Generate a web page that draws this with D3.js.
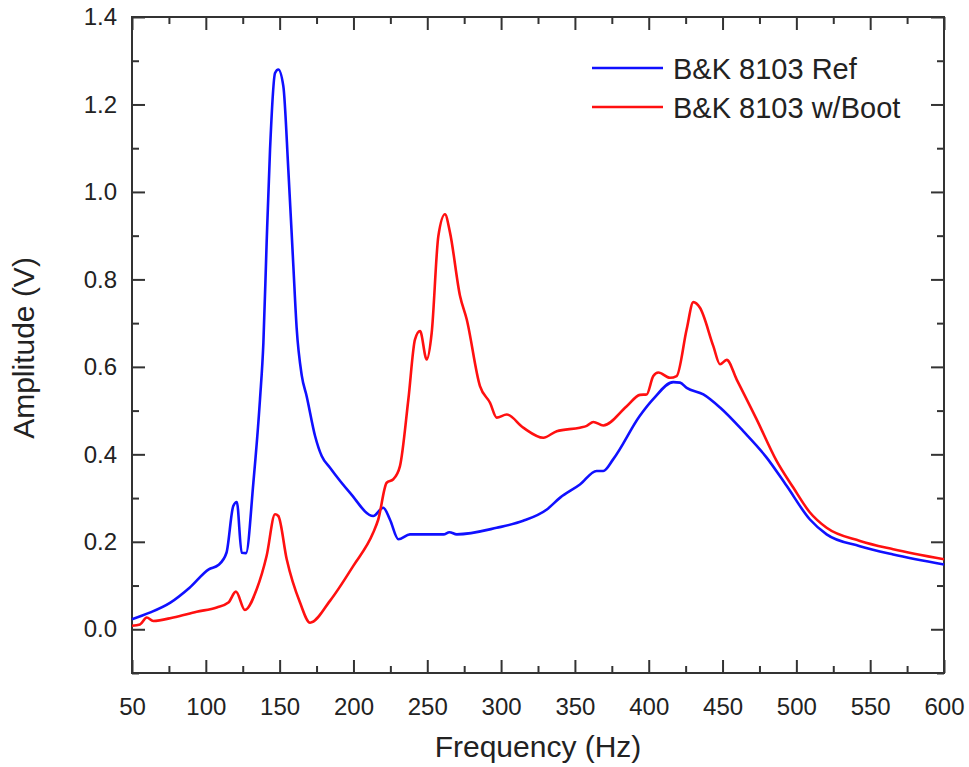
<!DOCTYPE html>
<html>
<head>
<meta charset="utf-8">
<script src="https://cdn.jsdelivr.net/npm/d3@7"></script>
<style>
  body { margin: 0; background: #fff; }
  svg text { font-family: "Liberation Sans", Arial, sans-serif; fill: #222; }
</style>
</head>
<body>
<svg id="chart" width="969" height="767"></svg>
<script>
// --- data ---
var refFreq = [50, 62, 76, 89, 102, 108.5, 114, 118.6, 121, 124.3, 127.2, 132.2, 136.7, 139, 141.2,
    143.5, 146.9, 149.1, 152.5, 155.9, 159.3, 161.5, 165, 168.3, 174, 178.5, 184, 197.7, 213.4,
    220.2, 224.7, 230.4, 238.3, 261, 265, 270, 297, 315, 331, 340, 353.4, 364.7, 369.2, 376,
    394, 403, 416.6, 421.2, 425.7, 437, 448.3, 464, 480, 493.4, 509.2, 520.5, 543, 565.6, 600];
var refAmp = [0.023, 0.038, 0.061, 0.095, 0.137, 0.147, 0.175, 0.282, 0.291, 0.175, 0.174, 0.335, 0.526, 0.655, 0.884,
    1.097, 1.272, 1.28, 1.242, 1.05, 0.83, 0.69, 0.58, 0.533, 0.442, 0.396, 0.37, 0.312, 0.259,
    0.278, 0.251, 0.206, 0.217, 0.217, 0.222, 0.217, 0.232, 0.248, 0.274, 0.301, 0.331, 0.362, 0.362, 0.389,
    0.488, 0.526, 0.565, 0.564, 0.552, 0.537, 0.507, 0.453, 0.392, 0.328, 0.251, 0.217, 0.19, 0.171, 0.148];

var bootFreq = [50, 55.4, 60, 64.4, 78, 93.8, 107.4, 115.3, 120.4, 126.5, 134.4, 141.2, 146.9, 149.1, 154.8,
    163.8, 170.6, 184.1, 199.9, 213.4, 216.8, 222.5, 227, 231.5, 237.2, 241.7, 245.1, 249.6, 253,
    257.5, 262, 265.4, 272.2, 276.7, 285.7, 292.5, 297, 303.8, 315, 328.6, 337.7, 353.4, 358, 362.5,
    369.2, 385.1, 394.1, 398.6, 403.1, 406.5, 414.4, 418.9, 425.7, 430.2, 434.7, 443.7, 448.3, 452.8,
    459.6, 473.1, 486.6, 497.9, 509.2, 520.5, 543.1, 565.6, 600];
var bootAmp = [0.008, 0.011, 0.027, 0.019, 0.027, 0.04, 0.05, 0.061, 0.086, 0.044, 0.091, 0.168, 0.263, 0.259, 0.16,
    0.061, 0.015, 0.065, 0.145, 0.221, 0.251, 0.335, 0.343, 0.373, 0.526, 0.663, 0.682, 0.617, 0.678,
    0.899, 0.949, 0.907, 0.762, 0.709, 0.556, 0.518, 0.484, 0.491, 0.461, 0.438, 0.453, 0.461, 0.465, 0.474,
    0.466, 0.51, 0.536, 0.537, 0.579, 0.587, 0.575, 0.579, 0.686, 0.748, 0.735, 0.648, 0.606, 0.616,
    0.571, 0.48, 0.385, 0.324, 0.267, 0.232, 0.202, 0.183, 0.16];

var seriesNames = ["B&K 8103 Ref", "B&K 8103 w/Boot"];
var seriesColors = ["#1010ff", "#ff1010"];

var xTicks = [50, 100, 150, 200, 250, 300, 350, 400, 450, 500, 550, 600];
var yTicks = [0.0, 0.2, 0.4, 0.6, 0.8, 1.0, 1.2, 1.4];

// --- layout ---
var margin = {top: 17, left: 132, right: 25, bottom: 94};
var width = 969, height = 767;
var innerW = width - margin.left - margin.right;
var innerH = height - margin.top - margin.bottom;

var svg = d3.select("#chart");
var g = svg.append("g").attr("transform", "translate(" + margin.left + "," + margin.top + ")");

var x = d3.scaleLinear().domain([50, 600]).range([0, innerW]);
var y = d3.scaleLinear().domain([-0.1, 1.4]).range([innerH, 0]);

var xMinor = d3.range(75, 600, 50);
var yMinor = d3.range(-0.1, 1.4, 0.2);

var majorLen = 13, minorLen = 7;
var axisColor = "#333";

function styleAxis(sel) {
    sel.select(".domain").remove();
    sel.selectAll(".tick line").attr("stroke", axisColor).attr("stroke-width", 2);
}

// bottom axis with labels (ticks drawn inward)
var bottom = g.append("g").attr("transform", "translate(0," + innerH + ")")
    .call(d3.axisBottom(x).tickValues(xTicks).tickSize(-majorLen).tickPadding(25).tickFormat(d3.format("d")));
styleAxis(bottom);
bottom.selectAll("text").style("font-size", "24px").attr("fill", "#222");
g.append("g").attr("transform", "translate(0," + innerH + ")")
    .call(d3.axisBottom(x).tickValues(xMinor).tickSize(-minorLen).tickFormat(""))
    .call(styleAxis);

// top axis (ticks only)
g.append("g").call(d3.axisTop(x).tickValues(xTicks).tickSize(-majorLen).tickFormat("")).call(styleAxis);
g.append("g").call(d3.axisTop(x).tickValues(xMinor).tickSize(-minorLen).tickFormat("")).call(styleAxis);

// left axis with labels
var left = g.append("g")
    .call(d3.axisLeft(y).tickValues(yTicks).tickSize(-majorLen).tickPadding(15).tickFormat(d3.format(".1f")));
styleAxis(left);
left.selectAll("text").style("font-size", "24px").attr("fill", "#222");
g.append("g").call(d3.axisLeft(y).tickValues(yMinor).tickSize(-minorLen).tickFormat("")).call(styleAxis);

// right axis (ticks only)
g.append("g").attr("transform", "translate(" + innerW + ",0)")
    .call(d3.axisRight(y).tickValues(yTicks).tickSize(-majorLen).tickFormat("")).call(styleAxis);
g.append("g").attr("transform", "translate(" + innerW + ",0)")
    .call(d3.axisRight(y).tickValues(yMinor).tickSize(-minorLen).tickFormat("")).call(styleAxis);

// frame
g.append("rect")
    .attr("width", innerW).attr("height", innerH)
    .attr("fill", "none").attr("stroke", axisColor).attr("stroke-width", 2);

// lines
var line = d3.line()
    .curve(d3.curveMonotoneX)
    .x(function(d) { return x(d[0]); })
    .y(function(d) { return y(d[1]); });

var series = [d3.zip(refFreq, refAmp), d3.zip(bootFreq, bootAmp)];

g.selectAll(".series")
    .data(series).enter().append("path")
        .attr("class", "series")
        .attr("d", line)
        .attr("fill", "none")
        .attr("stroke", function(d, i) { return seriesColors[i]; })
        .attr("stroke-width", 2.6)
        .attr("stroke-linejoin", "round");

// legend
var legend = svg.append("g").attr("transform", "translate(592,68)");
seriesNames.forEach(function(name, i) {
    var row = legend.append("g").attr("transform", "translate(0," + (i * 39) + ")");
    row.append("line")
        .attr("x1", 0).attr("x2", 71).attr("y1", 0).attr("y2", 0)
        .attr("stroke", seriesColors[i]).attr("stroke-width", 2.6);
    row.append("text")
        .attr("x", 81).attr("y", 11)
        .style("font-size", "29px")
        .text(name);
});

// axis titles
svg.append("text")
    .attr("x", margin.left + innerW / 2).attr("y", 757)
    .attr("text-anchor", "middle")
    .style("font-size", "30px")
    .text("Frequency (Hz)");

svg.append("text")
    .attr("transform", "translate(34," + (margin.top + 331) + ") rotate(-90)")
    .attr("text-anchor", "middle")
    .style("font-size", "30px")
    .text("Amplitude (V)");
</script>
</body>
</html>
